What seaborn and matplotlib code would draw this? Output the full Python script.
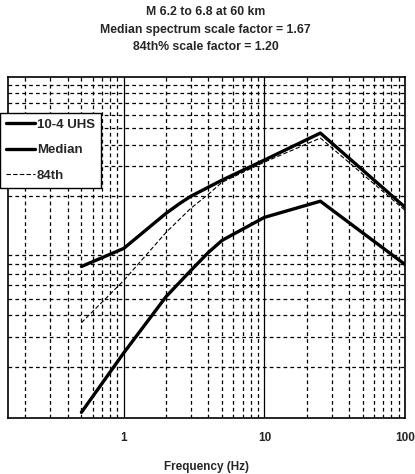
import matplotlib
matplotlib.use("Agg")
import matplotlib.pyplot as plt
import matplotlib.ticker as mticker
import pandas as pd
import seaborn as sns

# frequencies (Hz) and spectral values
uhs_freq = [0.5, 1, 2, 2.5, 3, 5, 10, 25, 100]
uhs_val = [0.0773, 0.0987, 0.1585, 0.181, 0.1995, 0.248, 0.325, 0.468, 0.172]

med_freq = [0.5, 1, 2, 3, 4, 5, 10, 25, 100]
med_val = [0.0108, 0.0241, 0.0515, 0.0733, 0.0935, 0.110, 0.150, 0.1866, 0.0794]

p84_freq = [0.5, 1, 2, 3, 4, 5, 10, 25, 100]
p84_val = [0.0362, 0.064, 0.1225, 0.1696, 0.205, 0.241, 0.316, 0.4375, 0.165]

title_lines = ["M 6.2 to 6.8 at 60 km",
               "Median spectrum scale factor = 1.67",
               "84th% scale factor = 1.20"]
xticks = [1, 10, 100]
xtick_labels = ["1", "10", "100"]

sns.set_style("white")
plt.rcParams['font.family'] = ['Liberation Sans', 'DejaVu Sans']

fig = plt.figure(figsize=(4.15, 4.74), dpi=100)
ax = fig.add_axes([0.019, 0.118, 0.957, 0.720])

uhs = pd.DataFrame({"f": uhs_freq, "v": uhs_val})
med = pd.DataFrame({"f": med_freq, "v": med_val})
p84 = pd.DataFrame({"f": p84_freq, "v": p84_val})

sns.lineplot(data=uhs, x="f", y="v", ax=ax, color="black", lw=2.4, label="10-4 UHS")
sns.lineplot(data=med, x="f", y="v", ax=ax, color="black", lw=2.4, label="Median")
sns.lineplot(data=p84, x="f", y="v", ax=ax, color="black", lw=0.8,
             linestyle=(0, (4, 2)), label="84th")

ax.set_xscale("log")
ax.set_yscale("log")
ax.set_xlim(0.15, 100)
ax.set_ylim(0.01, 1.0)

ax.grid(which="major", color="black", lw=0.9, ls="-")
ax.grid(which="minor", color="black", lw=0.9, ls=(0, (3, 2.5)))
ax.yaxis.set_minor_locator(mticker.LogLocator(base=10, subs=range(2, 10)))
ax.xaxis.set_minor_locator(mticker.LogLocator(base=10, subs=range(2, 10)))

ax.set_xticks(xticks)
ax.set_xticklabels(xtick_labels, fontsize=8.5, fontweight="bold")
ax.tick_params(axis="x", which="both", length=0, pad=10)
ax.set_yticks([])
ax.yaxis.set_minor_formatter(mticker.NullFormatter())
ax.xaxis.set_minor_formatter(mticker.NullFormatter())
ax.tick_params(axis="y", which="both", length=0)
ax.set_ylabel("")
ax.set_xlabel("Frequency (Hz)", fontsize=8.5, fontweight="bold", labelpad=12)

for s in ax.spines.values():
    s.set_color("black")
    s.set_linewidth(1.2)

leg = ax.legend(loc="upper left", bbox_to_anchor=(-0.02, 0.895), frameon=True,
                fancybox=False, edgecolor="black",
                prop={"size": 9.5, "weight": "bold"},
                handlelength=2.2, handletextpad=0.15, borderpad=0.45,
                labelspacing=1.0, borderaxespad=0)
leg.get_frame().set_linewidth(1.0)
leg.get_frame().set_alpha(1)

ys = [0.974, 0.937, 0.901]
for t, y in zip(title_lines, ys):
    fig.text(0.495, y, t, ha="center", va="center", fontsize=8.8, fontweight="bold")

fig.savefig("out.png", dpi=100)
